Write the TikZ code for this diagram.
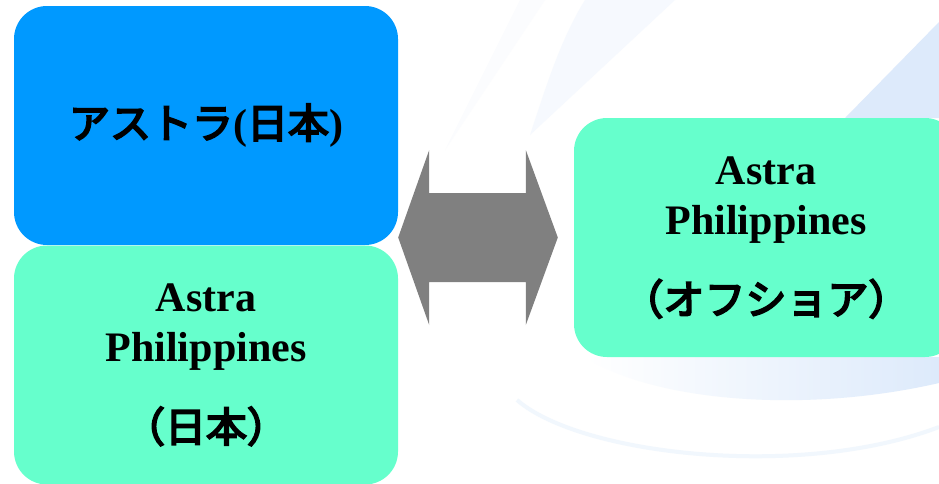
\documentclass[tikz,border=0pt]{standalone}
\usepackage{fontspec}
\setmainfont{Liberation Serif}
\newfontfamily\cjk[FakeBold=4.5]{Noto Sans CJK JP}
\usetikzlibrary{calc}
\definecolor{boxblue}{HTML}{0099FF}
\definecolor{boxgreen}{HTML}{66FFCC}
\definecolor{arrowgray}{HTML}{808080}
\definecolor{swoosh}{HTML}{DDEAFB}
\newcommand\jtext[1]{{\cjk\mdseries\fontsize{41}{50}\selectfont #1}}
\begin{document}
\begin{tikzpicture}[x=1pt,y=-1pt,
  card/.style={rectangle, rounded corners=33pt, minimum width=384pt,
    minimum height=239pt, inner sep=0pt, align=center,
    font=\fontsize{42}{50}\selectfont\bfseries},
  bigarrow/.style={fill=arrowgray, draw=none}]
\useasboundingbox (0,0) rectangle (939,483);
\fill[white] (0,0) rectangle (939,483);
% faint background swooshes
\fill[swoosh] (939,22) -- (845,118) -- (939,118) -- cycle;
\fill[swoosh!28] (585,0) -- (675,0) -- (530,135) .. controls (545,90) and (560,40) .. cycle;
\fill[swoosh!12] (520,0) -- (545,0) -- (445,150) .. controls (470,100) and (495,50) .. cycle;
\shade[left color=white, right color=swoosh] (585,357) .. controls (650,400) and (800,415) .. (939,383) -- (939,357) -- cycle;
\draw[swoosh!40, line width=4pt] (517,400) .. controls (580,455) and (800,480) .. (939,427);
% boxes
\node[card, fill=boxblue] (jp) at (206,125.5) {\jtext{アストラ}(\jtext{日本})};
\node[card, fill=boxgreen] (ph) at (206,365) {Astra\\Philippines\\[30pt]\jtext{（日本）}};
\node[card, fill=boxgreen] (off) at (766,237.5) {Astra\\Philippines\\[30pt]\jtext{（オフショア）}};
% double arrow between the Japan side and the offshore box
\coordinate (lt) at (jp.east |- off.west);
\coordinate (rt) at ($(off.west)+(-16,0)$);
\fill[bigarrow] (lt) -- ++(31,-87.5) -- ++(0,43) -- ($(rt)+(-32,-44.5)$) -- ++(0,-43) -- (rt)
  -- ($(rt)+(-32,87.5)$) -- ++(0,-43) -- ($(lt)+(31,44.5)$) -- ++(0,43) -- cycle;
\end{tikzpicture}
\end{document}
